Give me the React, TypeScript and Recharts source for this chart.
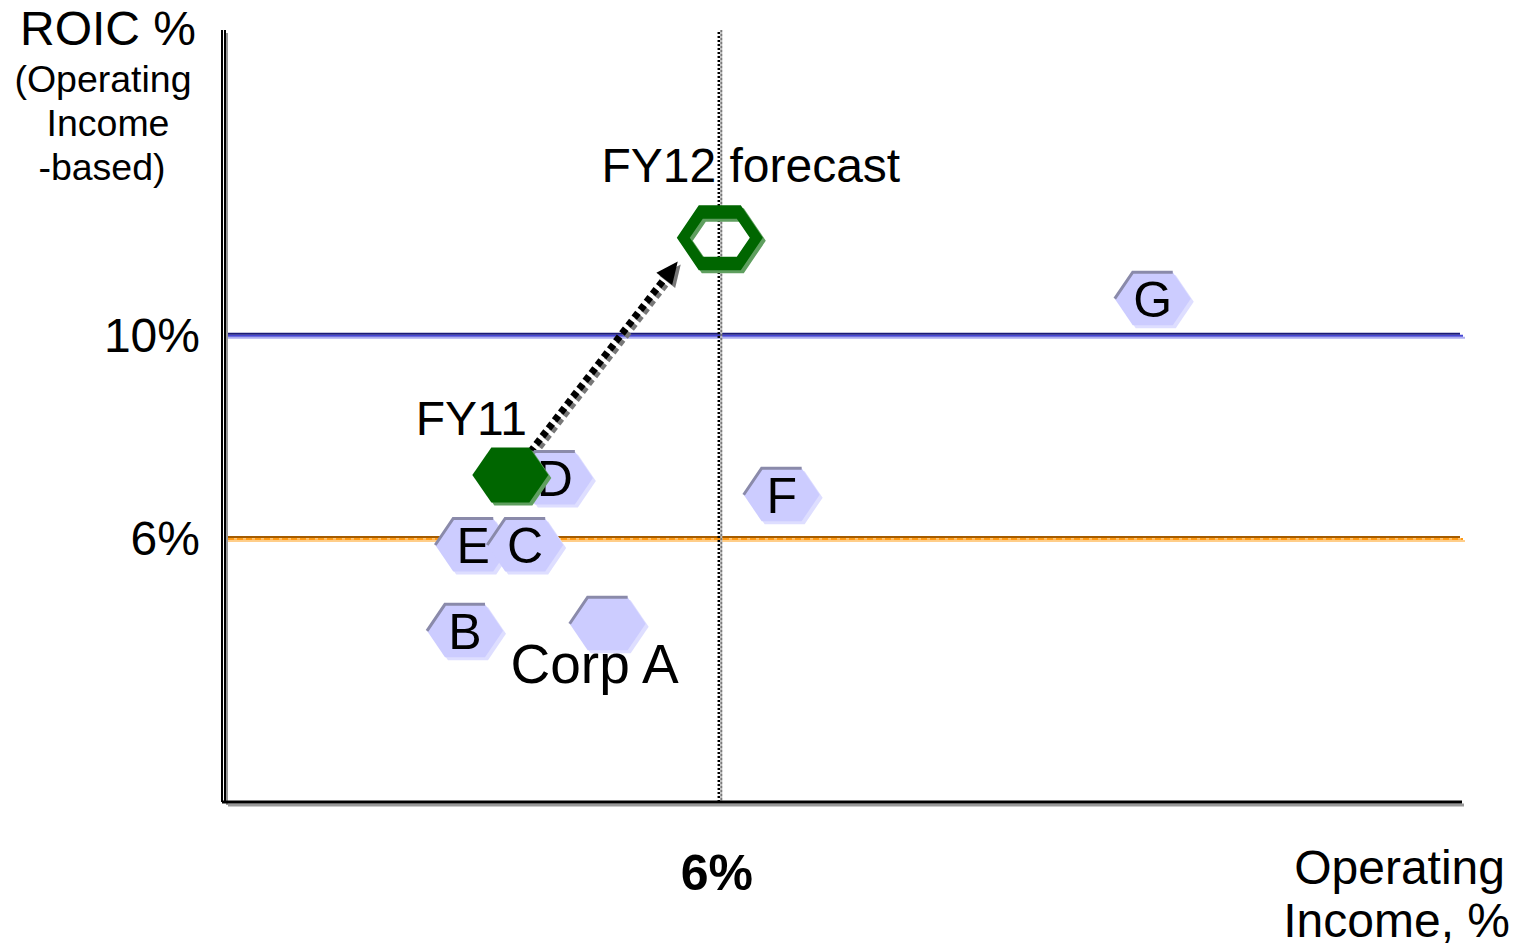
import React from "react";
import { ReferenceLine, Scatter, ScatterChart, XAxis, YAxis } from "recharts";

// peer companies, x = operating income %, y = ROIC %
const peerNames = ["G", "D", "F", "E", "C", "B"];
const peerOpIncome = [11.25, 4.0, 6.75, 3.01, 3.64, 2.91];
const peerRoic = [10.71, 7.18, 6.85, 5.86, 5.86, 4.17];

const corpA = [{ name: "Corp A", x: 4.64, y: 4.31 }];
const fy11 = [{ name: "FY11", x: 3.46, y: 7.24 }];
const fy12 = [{ name: "FY12 forecast", x: 6.0, y: 11.91 }];

const arrowSegment = [
  { x: 3.7, y: 7.69 },
  { x: 5.49, y: 11.44 },
];

const xTicks = [6];
const yTicks = [6, 10];
const roicHurdle = 10;
const roicFloor = 6;
const opIncomeLine = 6;

const FONT = "'Liberation Sans', Arial, sans-serif";

const peers = peerNames.map((name, i) => ({ name, x: peerOpIncome[i], y: peerRoic[i] }));

function hex(cx: number, cy: number, w: number, h: number, inset: number) {
  const l = cx - w / 2;
  const r = cx + w / 2;
  const t = cy - h / 2;
  const b = cy + h / 2;
  return [
    [l, cy],
    [l + inset, t],
    [r - inset, t],
    [r, cy],
    [r - inset, b],
    [l + inset, b],
  ];
}
const pts = (p: number[][]) => p.map((q) => q.join(",")).join(" ");

function PeerHex(props: any) {
  const { cx, cy, payload } = props;
  const main = hex(cx, cy, 76, 53, 18);
  return (
    <g>
      <polygon points={pts(hex(cx + 3, cy + 3, 76, 53, 18))} fill="#dedeff" />
      <polygon points={pts(main)} fill="#ccccff" />
      <polyline points={pts(main.slice(0, 3))} fill="none" stroke="#8a8aaa" strokeWidth={3} />
      {payload.name.length === 1 && (
        <text x={cx} y={cy + 18} textAnchor="middle" fontSize={50} fontFamily={FONT} fill="#000">
          {payload.name}
        </text>
      )}
      {payload.name.length > 1 && (
        <text x={cx - 13} y={cy + 59} textAnchor="middle" fontSize={55} fontFamily={FONT} fill="#000">
          {payload.name}
        </text>
      )}
    </g>
  );
}

function FilledHex(props: any) {
  const { cx, cy, payload } = props;
  return (
    <g>
      <polygon points={pts(hex(cx + 3, cy + 3, 76, 55, 19))} fill="#5f9f5f" />
      <polygon points={pts(hex(cx, cy, 76, 55, 19))} fill="#006600" />
      <text x={cx - 39} y={cy - 40} textAnchor="middle" fontSize={48} fontFamily={FONT} fill="#000">
        {payload.name}
      </text>
    </g>
  );
}

function HollowHex(props: any) {
  const { cx, cy, payload } = props;
  const ring = (x: number, y: number) =>
    "M" + pts(hex(x, y, 86, 65, 22)) + "Z M" + pts(hex(x, y, 60, 38, 13)) + "Z";
  return (
    <g>
      <path d={ring(cx + 3, cy + 3)} fill="#5f9f5f" fillRule="evenodd" />
      <path d={ring(cx, cy)} fill="#006600" fillRule="evenodd" />
      <text x={cx + 31} y={cy - 56} textAnchor="middle" fontSize={48} fontFamily={FONT} fill="#000">
        {payload.name}
      </text>
    </g>
  );
}

const BlueLine = (p: any) => (
  <g>
    <line x1={p.x1} x2={p.x2 + 3} y1={p.y1 + 3} y2={p.y2 + 3} stroke="#aeaef0" strokeWidth={2} />
    <line x1={p.x1} x2={p.x2 + 1} y1={p.y1 + 1} y2={p.y2 + 1} stroke="#4646d4" strokeWidth={2} />
    <line x1={p.x1} x2={p.x2 - 2} y1={p.y1 - 1} y2={p.y2 - 1} stroke="#1a1a78" strokeWidth={2} />
  </g>
);

const OrangeLine = (p: any) => (
  <g>
    <line x1={p.x1} x2={p.x2 + 3} y1={p.y1 + 3} y2={p.y2 + 3} stroke="#ffce8a" strokeWidth={2} />
    <line x1={p.x1} x2={p.x2 + 1} y1={p.y1 + 1} y2={p.y2 + 1} stroke="#ff9a14" strokeWidth={2} />
    <line x1={p.x1} x2={p.x2 + 1} y1={p.y1 + 1} y2={p.y2 + 1} stroke="#ffe2b8" strokeWidth={1} strokeDasharray="3 6" />
    <line x1={p.x1} x2={p.x2 - 2} y1={p.y1 - 1} y2={p.y2 - 1} stroke="#a45c00" strokeWidth={2} />
  </g>
);

const DottedV = (p: any) => (
  <g>
    <line x1={p.x1 + 1.5} x2={p.x2 + 1.5} y1={p.y1} y2={p.y2} stroke="#777" strokeWidth={2} strokeDasharray="2 2" strokeDashoffset={2} />
    <line x1={p.x1 + 1.5} x2={p.x2 + 1.5} y1={p.y1} y2={p.y2} stroke="#bbb" strokeWidth={2} strokeDasharray="2 2" />
    <line x1={p.x1 - 1} x2={p.x2 - 1} y1={p.y1} y2={p.y2} stroke="#000" strokeWidth={2.5} strokeDasharray="2 2" />
  </g>
);

const LeftAxis = (p: any) => (
  <g>
    <line x1={p.x1 + 2} x2={p.x2 + 2} y1={p.y1 + 3} y2={p.y2 + 3} stroke="#999" strokeWidth={2} />
    <line x1={p.x1} x2={p.x2} y1={p.y1} y2={p.y2} stroke="#000" strokeWidth={2} />
    <line x1={p.x1 - 3} x2={p.x2 - 3} y1={p.y1} y2={p.y2} stroke="#000" strokeWidth={2} />
  </g>
);

const BottomAxis = (p: any) => (
  <g>
    <line x1={p.x1 + 3} x2={p.x2 + 2} y1={p.y1 + 3} y2={p.y2 + 3} stroke="#999" strokeWidth={3} />
    <line x1={p.x1 - 3} x2={p.x2} y1={p.y1} y2={p.y2} stroke="#000" strokeWidth={3} />
  </g>
);

const Arrow = (p: any) => {
  const dx = p.x2 - p.x1;
  const dy = p.y2 - p.y1;
  const len = Math.hypot(dx, dy);
  const ux = dx / len;
  const uy = dy / len;
  const head = 22;
  const bx = p.x2 - ux * head;
  const by = p.y2 - uy * head;
  const nx = -uy * 10;
  const ny = ux * 10;
  const tri = (o: number) =>
    `${p.x2 + o},${p.y2 + o} ${bx + nx + o},${by + ny + o} ${bx - nx + o},${by - ny + o}`;
  return (
    <g>
      <line x1={p.x1 + 3} y1={p.y1 + 3} x2={bx + 3} y2={by + 3} stroke="#777" strokeWidth={7} strokeDasharray="6 4" />
      <polygon points={tri(3)} fill="#777" />
      <line x1={p.x1} y1={p.y1} x2={bx} y2={by} stroke="#000" strokeWidth={7} strokeDasharray="6 4" />
      <polygon points={tri(0)} fill="#000" />
    </g>
  );
};

const YTick = ({ x, y, payload }: any) => (
  <text x={x} y={y} dx={-17} dy={17} textAnchor="end" fontSize={48} fontFamily={FONT} fill="#000">
    {payload.value}%
  </text>
);

const XTick = ({ x, y, payload }: any) => (
  <text x={x} y={y} dx={-3} dy={80} textAnchor="middle" fontSize={50} fontWeight="bold" fontFamily={FONT} fill="#000">
    {payload.value}%
  </text>
);

export default function App() {
  return (
    <div style={{ position: "absolute", left: 0, top: 0, width: 1517, height: 947, background: "#fff" }}>
      <ScatterChart width={1517} height={947} margin={{ top: 30, right: 55, bottom: 85, left: 165 }}>
        <XAxis
          type="number"
          dataKey="x"
          domain={[0, 15]}
          ticks={xTicks}
          axisLine={false}
          tickLine={false}
          height={60}
          tick={<XTick />}
          allowDataOverflow
        />
        <YAxis
          type="number"
          dataKey="y"
          domain={[0.8, 16]}
          ticks={yTicks}
          axisLine={false}
          tickLine={false}
          width={60}
          tick={<YTick />}
          allowDataOverflow
        />
        <ReferenceLine y={roicHurdle} shape={BlueLine} />
        <ReferenceLine y={roicFloor} shape={OrangeLine} />
        <ReferenceLine x={opIncomeLine} shape={DottedV} />
        <ReferenceLine x={0} shape={LeftAxis} />
        <ReferenceLine y={0.8} shape={BottomAxis} />
        <ReferenceLine segment={arrowSegment} shape={Arrow} />
        <Scatter data={peers} shape={PeerHex} isAnimationActive={false} />
        <Scatter data={corpA} shape={PeerHex} isAnimationActive={false} />
        <Scatter data={fy11} shape={FilledHex} isAnimationActive={false} />
        <Scatter data={fy12} shape={HollowHex} isAnimationActive={false} />
      </ScatterChart>
      <svg
        width={1517}
        height={947}
        style={{ position: "absolute", left: 0, top: 0, pointerEvents: "none" }}
        fontFamily={FONT}
      >
        <text x={108} y={45} textAnchor="middle" fontSize={48}>ROIC %</text>
        <text x={103} y={92} textAnchor="middle" fontSize={37.5}>(Operating</text>
        <text x={108} y={136} textAnchor="middle" fontSize={37.5}>Income</text>
        <text x={102} y={180} textAnchor="middle" fontSize={37.5}>-based)</text>
        <text x={1505} y={884} textAnchor="end" fontSize={48}>Operating</text>
        <text x={1510} y={937} textAnchor="end" fontSize={48}>Income, %</text>
      </svg>
    </div>
  );
}
